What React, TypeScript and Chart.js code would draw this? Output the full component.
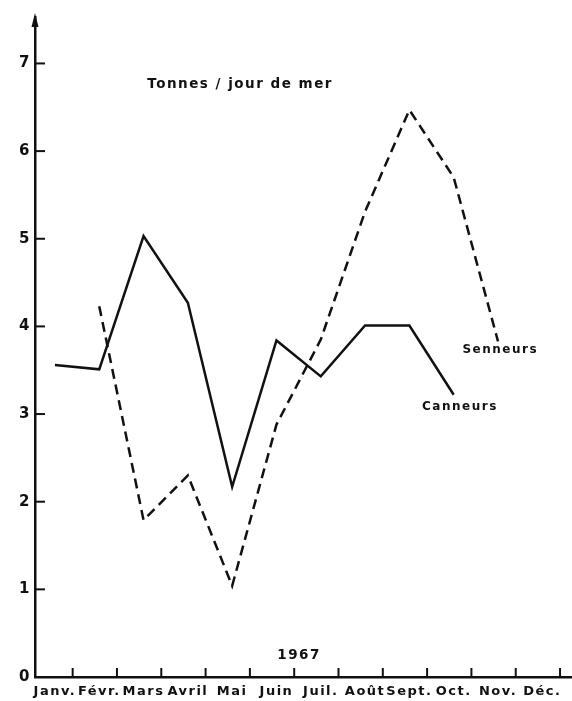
import React, { useEffect, useRef } from "react";
import { Chart, registerables } from "chart.js";

Chart.register(...registerables);

const months = ["Janv.", "Févr.", "Mars", "Avril", "Mai", "Juin", "Juil.", "Août", "Sept.", "Oct.", "Nov.", "Déc."];
const canneurs = [3.56, 3.51, 5.03, 4.27, 2.17, 3.84, 3.43, 4.01, 4.01, 3.22, null, null];
const senneurs = [null, 4.23, 1.79, 2.3, 1.04, 2.88, 3.85, 5.31, 6.47, 5.7, 3.83, null];
const yTicks = [0, 1, 2, 3, 4, 5, 6, 7];
const unitLabel = "Tonnes / jour de mer";
const yearLabel = "1967";

const FONT = "'DejaVu Sans', sans-serif";
const INK = "#111";
const SPACING = "1.5px";

const toPoints = (arr: (number | null)[]) =>
  arr.map((v, i) => (v === null ? null : { x: i, y: v })).filter((p) => p !== null) as { x: number; y: number }[];

const spacingPlugin = {
  id: "spacing",
  beforeLayout(chart: any) {
    chart.ctx.letterSpacing = SPACING;
  },
  beforeDraw(chart: any) {
    chart.ctx.letterSpacing = SPACING;
  },
};

const decorPlugin = {
  id: "decor",
  afterDraw(chart: any) {
    const { ctx, chartArea, scales } = chart;
    const xs = scales.x;
    const ys = scales.y;
    ctx.save();
    ctx.strokeStyle = INK;
    ctx.fillStyle = INK;
    ctx.lineWidth = 2;
    for (let i = 0; i < months.length; i++) {
      const px = xs.getPixelForValue(i + 0.4);
      ctx.beginPath();
      ctx.moveTo(px, chartArea.bottom);
      ctx.lineTo(px, chartArea.bottom - 9);
      ctx.stroke();
    }
    for (let v = 1; v < yTicks.length; v++) {
      const py = ys.getPixelForValue(yTicks[v]);
      ctx.beginPath();
      ctx.moveTo(chartArea.left, py);
      ctx.lineTo(chartArea.left + 10, py);
      ctx.stroke();
    }
    const ax = chartArea.left;
    const ay = chartArea.top - 4;
    ctx.beginPath();
    ctx.moveTo(ax, ay);
    ctx.lineTo(ax - 3.5, ay + 14);
    ctx.lineTo(ax + 3.5, ay + 14);
    ctx.closePath();
    ctx.fill();

    ctx.letterSpacing = SPACING;
    ctx.textAlign = "center";
    ctx.textBaseline = "middle";
    ctx.font = `bold 13.5px ${FONT}`;
    const txt = (s: string, xv: number, yv: number) =>
      ctx.fillText(s, xs.getPixelForValue(xv), ys.getPixelForValue(yv));
    txt(unitLabel, 4.18, 6.76);
    txt(yearLabel, 5.51, 0.25);
    ctx.font = `bold 12px ${FONT}`;
    txt("Senneurs", 10.05, 3.73);
    txt("Canneurs", 9.14, 3.08);
    ctx.restore();
  },
};

export default function App() {
  const ref = useRef<HTMLCanvasElement>(null);
  useEffect(() => {
    document.body.style.margin = "0";
    const canvas = ref.current!;
    const chart = new Chart(canvas, {
      type: "line",
      data: {
        datasets: [
          {
            label: "Canneurs",
            data: toPoints(canneurs),
            borderColor: INK,
            borderWidth: 2.5,
            pointRadius: 0,
            tension: 0,
            fill: false,
          },
          {
            label: "Senneurs",
            data: toPoints(senneurs),
            borderColor: INK,
            borderWidth: 2.5,
            borderDash: [10, 6],
            pointRadius: 0,
            tension: 0,
            fill: false,
          },
        ],
      },
      options: {
        responsive: false,
        animation: false,
        layout: { padding: { top: 17, right: 0, left: 0, bottom: 0 } },
        plugins: { legend: { display: false }, tooltip: { enabled: false } },
        scales: {
          x: {
            type: "linear",
            min: -0.45,
            max: 11.67,
            grid: { display: false, drawTicks: false },
            border: { display: true, color: INK, width: 2.5 },
            afterBuildTicks: (s: any) => {
              s.ticks = months.map((_, i) => ({ value: i }));
            },
            afterFit: (s: any) => {
              s.height = 24;
            },
            ticks: {
              color: INK,
              font: { family: FONT, size: 13, weight: "bold" },
              padding: 7,
              maxRotation: 0,
              autoSkip: false,
              callback: (v: any) => months[Math.round(Number(v))],
            },
          },
          y: {
            type: "linear",
            min: 0,
            max: 7.53,
            grid: { display: false, drawTicks: false },
            border: { display: true, color: INK, width: 2.5 },
            afterBuildTicks: (s: any) => {
              s.ticks = yTicks.map((v) => ({ value: v }));
            },
            afterFit: (s: any) => {
              s.width = 35;
            },
            ticks: {
              color: INK,
              font: { family: FONT, size: 15, weight: "bold" },
              padding: 4,
              callback: (v: any) => String(v),
            },
          },
        },
      },
      plugins: [spacingPlugin, decorPlugin],
    });
    return () => chart.destroy();
  }, []);
  return (
    <div style={{ width: 572, height: 701, background: "#fff" }}>
      <canvas ref={ref} width={572} height={701} style={{ display: "block", width: 572, height: 701 }} />
    </div>
  );
}
